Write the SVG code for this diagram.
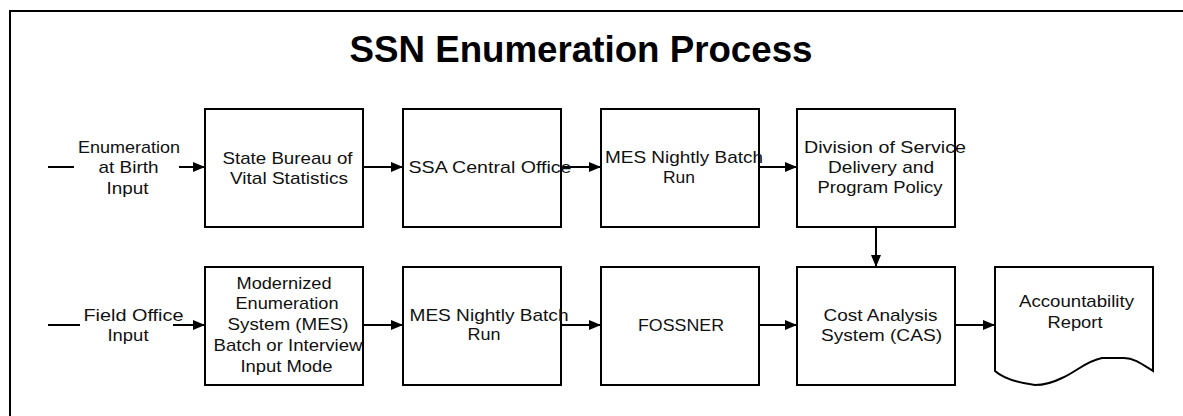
<svg xmlns="http://www.w3.org/2000/svg" width="1183" height="416" viewBox="0 0 1183 416">
<defs>
<marker id="ah" markerUnits="userSpaceOnUse" markerWidth="12" markerHeight="10" refX="12" refY="5" orient="auto">
<path d="M0,0 L12,5 L0,10 z" fill="#000"/>
</marker>
<style>
.box{fill:#fff;stroke:#000;stroke-width:2}
.ln{fill:none;stroke:#000;stroke-width:2}
.ar{fill:none;stroke:#000;stroke-width:2;marker-end:url(#ah)}
text{font-family:"Liberation Sans",Arial,sans-serif;font-size:17px;fill:#111;text-anchor:middle}
.title{font-size:37px;font-weight:bold;fill:#000}
</style>
</defs>
<rect width="1183" height="416" fill="#fff"/>
<path class="ln" d="M10,416 V11 H1183"/>
<text class="title" x="581" y="62" textLength="463" lengthAdjust="spacingAndGlyphs">SSN Enumeration Process</text>

<g id="connectors">
<line class="ln" x1="48" y1="167" x2="74" y2="167"/>
<line class="ar" x1="179" y1="167" x2="205" y2="167"/>
<line class="ar" x1="363" y1="167" x2="403" y2="167"/>
<line class="ar" x1="561" y1="167" x2="601" y2="167"/>
<line class="ar" x1="759" y1="167" x2="797" y2="167"/>
<line class="ar" x1="876" y1="227" x2="876" y2="267"/>
<line class="ln" x1="48" y1="325" x2="80" y2="325"/>
<line class="ar" x1="173" y1="325" x2="205" y2="325"/>
<line class="ar" x1="363" y1="325" x2="403" y2="325"/>
<line class="ar" x1="561" y1="325" x2="601" y2="325"/>
<line class="ar" x1="759" y1="325" x2="797" y2="325"/>
<line class="ar" x1="955" y1="325" x2="995" y2="325"/>
</g>

<g id="input-birth">
<text x="129" y="153" textLength="102" lengthAdjust="spacingAndGlyphs">Enumeration</text>
<text x="128.5" y="173" textLength="60" lengthAdjust="spacingAndGlyphs">at Birth</text>
<text x="127.5" y="194" textLength="42" lengthAdjust="spacingAndGlyphs">Input</text>
</g>

<g id="state-bureau">
<rect class="box" x="205" y="109" width="158" height="118"/>
<text x="287.5" y="164" textLength="130" lengthAdjust="spacingAndGlyphs">State Bureau of</text>
<text x="289" y="184" textLength="118" lengthAdjust="spacingAndGlyphs">Vital Statistics</text>
</g>

<g id="ssa-central">
<rect class="box" x="403" y="109" width="158" height="118"/>
<text x="490" y="173" textLength="163" lengthAdjust="spacingAndGlyphs">SSA Central Office</text>
</g>

<g id="mes-nightly-1">
<rect class="box" x="601" y="109" width="158" height="118"/>
<text x="684" y="163" textLength="158" lengthAdjust="spacingAndGlyphs">MES Nightly Batch</text>
<text x="679" y="183" textLength="32" lengthAdjust="spacingAndGlyphs">Run</text>
</g>

<g id="division">
<rect class="box" x="797" y="109" width="158" height="118"/>
<text x="885" y="153" textLength="162" lengthAdjust="spacingAndGlyphs">Division of Service</text>
<text x="881" y="173" textLength="106" lengthAdjust="spacingAndGlyphs">Delivery and</text>
<text x="880" y="193" textLength="125" lengthAdjust="spacingAndGlyphs">Program Policy</text>
</g>

<g id="input-field">
<text x="133.5" y="321" textLength="100" lengthAdjust="spacingAndGlyphs">Field Office</text>
<text x="128" y="341" textLength="41" lengthAdjust="spacingAndGlyphs">Input</text>
</g>

<g id="mes-system">
<rect class="box" x="205" y="267" width="158" height="118"/>
<text x="284" y="289" textLength="95" lengthAdjust="spacingAndGlyphs">Modernized</text>
<text x="287" y="309" textLength="103" lengthAdjust="spacingAndGlyphs">Enumeration</text>
<text x="288" y="330" textLength="121" lengthAdjust="spacingAndGlyphs">System (MES)</text>
<text x="288" y="351" textLength="149" lengthAdjust="spacingAndGlyphs">Batch or Interview</text>
<text x="286.5" y="372" textLength="92" lengthAdjust="spacingAndGlyphs">Input Mode</text>
</g>

<g id="mes-nightly-2">
<rect class="box" x="403" y="267" width="158" height="118"/>
<text x="489" y="321" textLength="159" lengthAdjust="spacingAndGlyphs">MES Nightly Batch</text>
<text x="484" y="340" textLength="33" lengthAdjust="spacingAndGlyphs">Run</text>
</g>

<g id="fossner">
<rect class="box" x="601" y="267" width="158" height="118"/>
<text x="681" y="331" textLength="86" lengthAdjust="spacingAndGlyphs">FOSSNER</text>
</g>

<g id="cas">
<rect class="box" x="797" y="267" width="158" height="118"/>
<text x="880.5" y="321" textLength="114" lengthAdjust="spacingAndGlyphs">Cost Analysis</text>
<text x="881.5" y="341" textLength="121" lengthAdjust="spacingAndGlyphs">System (CAS)</text>
</g>

<g id="report">
<path class="box" d="M995,267 H1153 V371 C1142,364 1134,358 1124,358 L1102,358 C1086,361 1076,372 1062,378 C1052,383 1042,385 1035,385 C1020,383 1004,379 995,371 Z"/>
<text x="1076.5" y="307" textLength="115" lengthAdjust="spacingAndGlyphs">Accountability</text>
<text x="1075" y="328" textLength="55" lengthAdjust="spacingAndGlyphs">Report</text>
</g>
</svg>
